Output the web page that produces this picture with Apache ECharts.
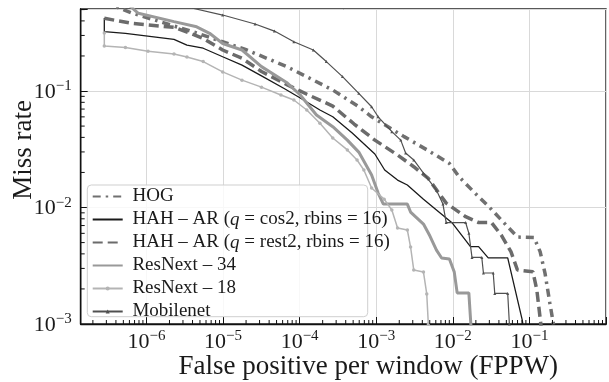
<!DOCTYPE html>
<html>
<head>
<meta charset="utf-8">
<script src="https://cdn.jsdelivr.net/npm/echarts@6.0.0/dist/echarts.min.js"></script>
<style>
  html, body { margin: 0; padding: 0; background: #fff; }
  #chart { width: 609px; height: 382px; }
</style>
</head>
<body>
<div id="chart"></div>
<script>
// FPPW / miss rate pairs
const hog = [
  [2.82e-7, 0.58], [6.4e-7, 0.468], [4.53e-6, 0.315], [2.05e-5, 0.225], [6.92e-5, 0.161],
  [2.71e-4, 0.102], [5.92e-4, 0.0733], [8.71e-4, 0.0601], [2.31e-3, 0.0406], [5.03e-3, 0.0302],
  [9.03e-3, 0.0239], [0.0121, 0.0183], [0.0197, 0.0132], [0.029, 0.0103], [0.0473, 0.00731],
  [0.0698, 0.00558], [0.115, 0.00552], [0.138, 0.00418], [0.16, 0.00272], [0.185, 0.00151],
  [0.206, 0.001], [0.21, 0.0009]
];
const hahCos2 = [
  [2.82e-7, 0.424], [2.82e-7, 0.323], [5.32e-7, 0.313], [2.29e-6, 0.278], [3.38e-6, 0.248],
  [5.51e-6, 0.233], [9.9e-6, 0.197], [1.77e-5, 0.167], [3.18e-5, 0.135], [6.28e-5, 0.105],
  [1.02e-4, 0.0871], [1.84e-4, 0.0687], [2.71e-4, 0.0601], [4.86e-4, 0.0436], [9.6e-4, 0.0288],
  [1.29e-3, 0.021], [1.9e-3, 0.0172], [2.55e-3, 0.0156], [4.14e-3, 0.0118], [6.12e-3, 0.00953],
  [9.93e-3, 0.00731], [0.017, 0.00461], [0.0217, 0.00461], [0.029, 0.00369], [0.0521, 0.00369],
  [0.0807, 0.00108], [0.084, 0.0009]
];
const hahRest2 = [
  [2.82e-7, 0.421], [6.45e-7, 0.381], [2.29e-6, 0.352], [3.73e-6, 0.313], [5.51e-6, 0.283],
  [9.9e-6, 0.225], [1.77e-5, 0.191], [3.18e-5, 0.147], [6.92e-5, 0.113], [1.23e-4, 0.0942],
  [2.71e-4, 0.0743], [5.15e-4, 0.0521], [9.6e-4, 0.0379], [1.9e-3, 0.0282], [3.09e-3, 0.0224],
  [4.74e-3, 0.0179], [8.2e-3, 0.0109], [0.0147, 0.00834], [0.0217, 0.00743], [0.032, 0.00743],
  [0.0428, 0.00581], [0.0574, 0.00418], [0.0698, 0.00291], [0.111, 0.00281], [0.125, 0.00196],
  [0.141, 0.001], [0.143, 0.0009]
];
const resNext34 = [
  [2.82e-7, 0.72], [5.52e-7, 0.569], [7.85e-7, 0.465], [2.29e-6, 0.394], [4.53e-6, 0.356],
  [6.68e-6, 0.313], [9.9e-6, 0.256], [1.77e-5, 0.225], [3.18e-5, 0.162], [6.92e-5, 0.117],
  [1.02e-4, 0.0924], [1.66e-4, 0.0622], [2.71e-4, 0.0494], [4.2e-4, 0.0379], [5.92e-4, 0.0299],
  [8.71e-4, 0.019], [1.06e-3, 0.0133], [1.24e-3, 0.0107], [2.55e-3, 0.0107], [2.81e-3, 0.00914],
  [4.14e-3, 0.00721], [5.03e-3, 0.00569], [6.12e-3, 0.00431], [7.14e-3, 0.00369], [9.03e-3, 0.00361],
  [0.01045, 0.00279], [0.0114, 0.00185], [0.0162, 0.00185], [0.0172, 0.001], [0.0174, 0.0009]
];
const resNext18 = [
  [2.82e-7, 0.315], [2.82e-7, 0.243], [5.32e-7, 0.236], [1.05e-6, 0.22], [2.29e-6, 0.208],
  [3.38e-6, 0.196], [5.51e-6, 0.179], [9.9e-6, 0.146], [1.77e-5, 0.124], [3.18e-5, 0.108],
  [5.7e-5, 0.0924], [8.41e-5, 0.0837], [1.24e-4, 0.0687], [1.84e-4, 0.0528], [2.71e-4, 0.0395],
  [4.2e-4, 0.0312], [5.62e-4, 0.0256], [6.9e-4, 0.021], [8.71e-4, 0.0147], [1.27e-3, 0.0118],
  [1.6e-3, 0.00953], [1.9e-3, 0.00667], [2.55e-3, 0.00641], [2.81e-3, 0.00458], [3.09e-3, 0.00291],
  [4.14e-3, 0.00279], [4.57e-3, 0.00181], [4.79e-3, 0.001], [4.82e-3, 0.0009]
];
const mobilenet = [
  [2.82e-7, 0.897], [2.52e-6, 0.62], [4.15e-6, 0.511], [9.9e-6, 0.449], [2.62e-5, 0.376],
  [4.69e-5, 0.327], [8.41e-5, 0.265], [1.51e-4, 0.225], [2.23e-4, 0.179], [3.63e-4, 0.133],
  [5.92e-4, 0.0955], [8.71e-4, 0.0733], [1.06e-3, 0.0601], [1.6e-3, 0.0448], [2.09e-3, 0.0379],
  [2.42e-3, 0.0294], [3.09e-3, 0.0256], [4.14e-3, 0.0197], [6.12e-3, 0.0141], [7.43e-3, 0.0107],
  [8.2e-3, 0.00743], [0.0147, 0.00743], [0.0162, 0.00601], [0.0178, 0.00373], [0.0239, 0.00373],
  [0.0251, 0.00274], [0.0337, 0.00274], [0.0353, 0.00183], [0.0521, 0.00183], [0.0548, 0.001],
  [0.0552, 0.0009]
];

const seriesNames = ['HOG', 'HAH \u2013 AR (q = cos2, rbins = 16)', 'HAH \u2013 AR (q = rest2, rbins = 16)',
  'ResNext \u2013 34', 'ResNext \u2013 18', 'Mobilenet'];

const xMin = 1.387e-7, xMax = 1;
const yMin = 0.001, yMax = 0.506;
const serif = 'Liberation Serif';
const ink = '#1a1a1a';

// minor tick positions (2..9 x 10^k)
const xMinor = [];
for (let k = -7; k <= 0; k++) {
  for (let m = 2; m <= 9; m++) {
    const v = m * Math.pow(10, k);
    if (v > xMin && v < xMax) xMinor.push([v, yMin]);
  }
}
const yMinor = [];
for (let k = -3; k <= -1; k++) {
  for (let m = 2; m <= 9; m++) {
    const v = m * Math.pow(10, k);
    if (v > yMin && v < yMax) yMinor.push([xMin, v]);
  }
}

function powLabel(v) {
  const l = Math.log10(v);
  const e = Math.round(l);
  if (Math.abs(l - e) > 1e-6 || e >= 0) return '';
  return '{b|10}{s|\u2212' + (-e) + '}';
}

const labelRich = {
  b: { fontSize: 22, fontFamily: serif, color: ink, verticalAlign: 'bottom', lineHeight: 24 },
  s: { fontSize: 15, fontFamily: serif, color: ink, verticalAlign: 'top', lineHeight: 15 }
};

function legendName(name) {
  return ' ' + name.replace('(q =', '({i|q} =');
}

// only the last two curves carry markers
const legendData = seriesNames.map(function (n, i) {
  return i < 4 ? { name: n, itemStyle: { color: 'rgba(0,0,0,0)', borderWidth: 0 } } : { name: n };
});

const chart = echarts.init(document.getElementById('chart'));
chart.setOption({
  animation: false,
  backgroundColor: '#fff',
  grid: {
    left: 80.7, top: 9, right: -12, bottom: 58,
    show: true, borderColor: '#222', borderWidth: 1.4, backgroundColor: 'transparent'
  },
  xAxis: {
    type: 'log', min: xMin, max: xMax,
    axisLine: { lineStyle: { color: '#111', width: 1.4 } },
    axisTick: { inside: true, length: 7, lineStyle: { color: '#111', width: 1 } },
    axisLabel: { formatter: powLabel, margin: 5, rich: labelRich },
    splitLine: { show: true, lineStyle: { color: '#d9d9d9', width: 1 } }
  },
  yAxis: {
    type: 'log', min: yMin, max: yMax,
    axisLine: { lineStyle: { color: '#111', width: 1.4 } },
    axisTick: { inside: true, length: 7, lineStyle: { color: '#111', width: 1 } },
    axisLabel: { formatter: powLabel, margin: 9, rich: labelRich },
    splitLine: { show: true, lineStyle: { color: '#d9d9d9', width: 1 } }
  },
  legend: {
    orient: 'vertical', left: 91.7, top: 187, padding: 0,
    itemWidth: 30, itemHeight: 5, itemGap: 4, z: 20,
    formatter: legendName,
    textStyle: {
      fontFamily: serif, fontSize: 19, color: ink, lineHeight: 18.4,
      rich: { i: { fontFamily: serif, fontSize: 19, fontStyle: 'italic', color: ink, lineHeight: 18.4 } }
    },
    data: legendData
  },
  graphic: [
    {
      type: 'rect', z: 10, silent: true,
      shape: { x: 87.3, y: 185, width: 280.4, height: 131.7, r: 4 },
      style: { fill: 'rgba(255,255,255,0.8)', stroke: '#cfcfcf', lineWidth: 1 }
    },
    {
      type: 'text', x: 24, y: 150, rotation: Math.PI / 2, silent: true,
      style: { text: 'Miss rate', font: '27px "Liberation Serif"', fill: ink,
        align: 'center', verticalAlign: 'middle', textAlign: 'center', textVerticalAlign: 'middle' }
    },
    {
      type: 'text', x: 368.3, y: 366.5, silent: true,
      style: { text: 'False positive per window (FPPW)', font: '27px "Liberation Serif"', fill: ink,
        align: 'center', verticalAlign: 'middle', textAlign: 'center', textVerticalAlign: 'middle' }
    }
  ],
  series: [
    {
      name: seriesNames[0], type: 'line', data: hog, symbol: 'none', z: 2,
      lineStyle: { color: '#707070', width: 3.5, type: [8, 5, 2.5, 5] }, itemStyle: { color: '#707070' }
    },
    {
      name: seriesNames[1], type: 'line', data: hahCos2, symbol: 'none', z: 2,
      lineStyle: { color: '#1a1a1a', width: 1.3 }, itemStyle: { color: '#1a1a1a' }
    },
    {
      name: seriesNames[2], type: 'line', data: hahRest2, symbol: 'none', z: 2,
      lineStyle: { color: '#6b6b6b', width: 3.5, type: [10, 5] }, itemStyle: { color: '#6b6b6b' }
    },
    {
      name: seriesNames[3], type: 'line', data: resNext34, symbol: 'none', z: 2,
      lineStyle: { color: '#999999', width: 3 }, itemStyle: { color: '#999999' }
    },
    {
      name: seriesNames[4], type: 'line', data: resNext18, symbol: 'circle', symbolSize: 3.5,
      showSymbol: true, z: 2,
      lineStyle: { color: '#b4b4b4', width: 1.5 }, itemStyle: { color: '#b4b4b4' }
    },
    {
      name: seriesNames[5], type: 'line', data: mobilenet, symbol: 'triangle', symbolSize: 3,
      showSymbol: true, z: 2,
      lineStyle: { color: '#505050', width: 1.2 }, itemStyle: { color: '#505050' }
    },
    {
      type: 'custom', data: xMinor, silent: true, z: 5,
      renderItem: function (params, api) {
        const p = api.coord([api.value(0), api.value(1)]);
        return { type: 'line', shape: { x1: p[0], y1: p[1], x2: p[0], y2: p[1] - 4 },
          style: { stroke: '#111', lineWidth: 1 } };
      }
    },
    {
      type: 'custom', data: yMinor, silent: true, z: 5,
      renderItem: function (params, api) {
        const p = api.coord([api.value(0), api.value(1)]);
        return { type: 'line', shape: { x1: p[0], y1: p[1], x2: p[0] + 4, y2: p[1] },
          style: { stroke: '#111', lineWidth: 1 } };
      }
    }
  ]
});
</script>
</body>
</html>
